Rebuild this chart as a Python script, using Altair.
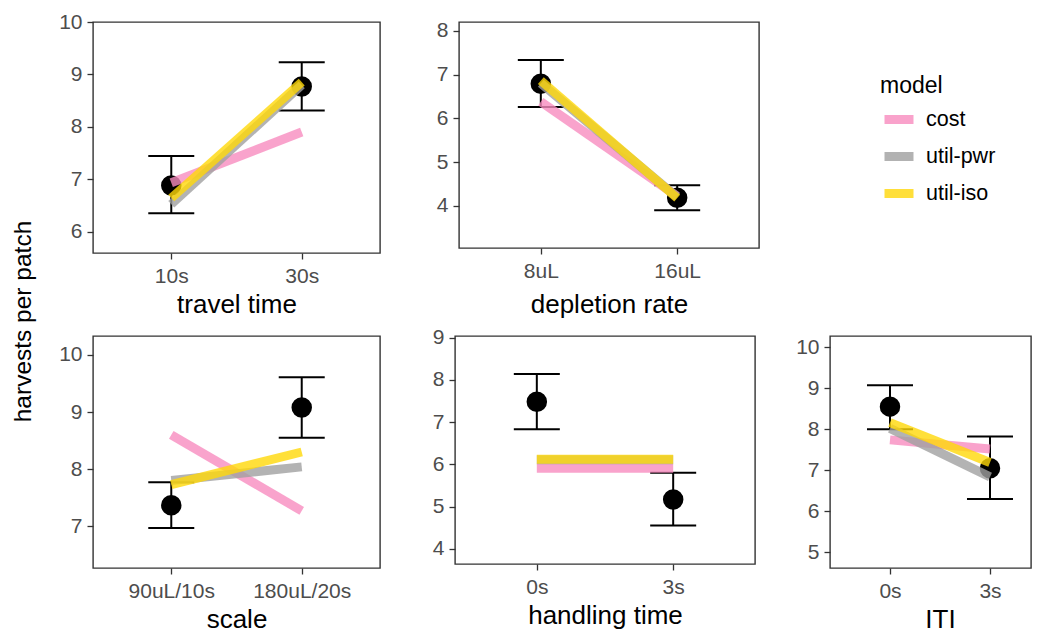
import altair as alt
import pandas as pd

FONT = "Liberation Sans"

models = ["cost", "util-pwr", "util-iso"]
model_colors = ["#F88CBF", "#A0A0A0", "#FFD809"]

# ---- travel time
travel_levels = ["10s", "30s"]
travel_mean = [6.88, 8.77]
travel_lo = [6.35, 8.31]
travel_hi = [7.44, 9.23]
travel_cost = [6.93, 7.90]
travel_pwr = [6.52, 8.80]
travel_iso = [6.64, 8.85]

# ---- depletion rate
depletion_levels = ["8uL", "16uL"]
depletion_mean = [6.79, 4.19]
depletion_lo = [6.26, 3.90]
depletion_hi = [7.33, 4.47]
depletion_cost = [6.38, 4.22]
depletion_pwr = [6.80, 4.20]
depletion_iso = [6.86, 4.18]

# ---- scale
scale_levels = ["90uL/10s", "180uL/20s"]
scale_mean = [7.37, 9.08]
scale_lo = [6.97, 8.55]
scale_hi = [7.77, 9.61]
scale_cost = [8.60, 7.27]
scale_pwr = [7.80, 8.04]
scale_iso = [7.73, 8.30]

# ---- handling time
handling_levels = ["0s", "3s"]
handling_mean = [7.48, 5.17]
handling_lo = [6.83, 4.55]
handling_hi = [8.14, 5.80]
handling_cost = [5.91, 5.91]
handling_pwr = [6.11, 6.11]
handling_iso = [6.12, 6.12]

# ---- ITI
iti_levels = ["0s", "3s"]
iti_mean = [8.55, 7.05]
iti_lo = [8.00, 6.30]
iti_hi = [9.07, 7.82]
iti_cost = [7.74, 7.52]
iti_pwr = [8.02, 6.84]
iti_iso = [8.16, 7.19]


def panel(levels, mean, lo, hi, cost, pwr, iso, xtitle, domain, ticks,
          width, height, title_pad=5, pad=0.6, align=0.5, title_x=None):
    obs = pd.DataFrame({"level": levels, "mean": mean, "lo": lo, "hi": hi})
    pred = pd.DataFrame({
        "level": levels * 3,
        "model": [m for m in models for _ in levels],
        "value": list(cost) + list(pwr) + list(iso),
    })
    axis_kw = dict(title=xtitle, titlePadding=title_pad)
    if title_x is not None:
        axis_kw["titleX"] = title_x
    x = alt.X("level:N", sort=levels,
              scale=alt.Scale(type="point", padding=pad, align=align),
              axis=alt.Axis(**axis_kw))
    yscale = alt.Scale(domain=domain, nice=False, zero=False)
    yaxis = alt.Axis(values=ticks, title=None, format="d")
    base = alt.Chart(obs)
    rule = base.mark_rule(color="black", strokeWidth=2).encode(
        x=x, y=alt.Y("lo:Q", scale=yscale, axis=yaxis), y2="hi:Q")
    cap_lo = base.mark_tick(color="black", size=46, thickness=2, opacity=1).encode(
        x=x, y=alt.Y("lo:Q"))
    cap_hi = base.mark_tick(color="black", size=46, thickness=2, opacity=1).encode(
        x=x, y=alt.Y("hi:Q"))
    pts = base.mark_circle(size=420, color="black", opacity=1).encode(
        x=x, y=alt.Y("mean:Q"))
    color = alt.Color("model:N", sort=models,
                      scale=alt.Scale(domain=models, range=model_colors),
                      legend=alt.Legend(title="model"))
    lines = [
        alt.Chart(pred).transform_filter(alt.datum.model == m)
        .mark_line(strokeWidth=9, opacity=0.8)
        .encode(x=x, y=alt.Y("value:Q"), color=color)
        for m in models
    ]
    return alt.layer(rule, cap_lo, cap_hi, pts, *lines).properties(
        width=width, height=height)


p1 = panel(travel_levels, travel_mean, travel_lo, travel_hi, travel_cost,
           travel_pwr, travel_iso, "travel time", [5.59, 10.0],
           [6, 7, 8, 9, 10], 287, 231)
p2 = panel(depletion_levels, depletion_mean, depletion_lo, depletion_hi,
           depletion_cost, depletion_pwr, depletion_iso, "depletion rate",
           [3.04, 8.2], [4, 5, 6, 7, 8], 300, 226, title_pad=10)
p3 = panel(scale_levels, scale_mean, scale_lo, scale_hi, scale_cost,
           scale_pwr, scale_iso, "scale", [6.27, 10.33], [7, 8, 9, 10],
           287, 232)
p4 = panel(handling_levels, handling_mean, handling_lo, handling_hi,
           handling_cost, handling_pwr, handling_iso, "handling time",
           [3.64, 9.04], [4, 5, 6, 7, 8, 9], 300, 228)
p5 = panel(iti_levels, iti_mean, iti_lo, iti_hi, iti_cost, iti_pwr, iti_iso,
           "ITI", [4.62, 10.27], [5, 6, 7, 8, 9, 10], 201, 232,
           pad=0.505, align=0.594, title_x=110)

top = alt.hconcat(p1, p2, spacing=79, bounds="flush")
bottom = alt.hconcat(p3, p4, p5, spacing=75, bounds="flush")

chart = alt.vconcat(top, bottom, spacing=7).properties(
    title=alt.TitleParams("harvests per patch", orient="left", anchor="middle",
                          fontSize=24.5, font=FONT, fontWeight="normal",
                          color="black", offset=21),
    padding={"left": 2, "top": 2, "right": 0, "bottom": 0},
).configure_view(
    stroke="#333333", strokeWidth=1.4
).configure_axis(
    labelFont=FONT, titleFont=FONT, labelFontSize=21, titleFontSize=26,
    labelColor="#4d4d4d", titleColor="black", titleFontWeight="normal",
    tickColor="#333333", tickWidth=1.3, tickSize=6, domain=False, grid=False,
).configure_axisY(
    minExtent=35, maxExtent=35, labelPadding=5,
).configure_axisX(
    labelAngle=0, labelPadding=6, minExtent=33, maxExtent=33,
).configure_legend(
    orient="none", legendX=787, legendY=53,
    titleFont=FONT, labelFont=FONT, titleFontSize=23, labelFontSize=21.5,
    titleFontWeight="normal", titleColor="black", labelColor="black",
    symbolType="stroke", symbolSize=841, symbolStrokeWidth=9,
    symbolOpacity=0.8, rowPadding=0, titlePadding=2.5, labelOffset=8,
)

chart.save("out.html", embed_options={"renderer": "svg", "actions": False})
